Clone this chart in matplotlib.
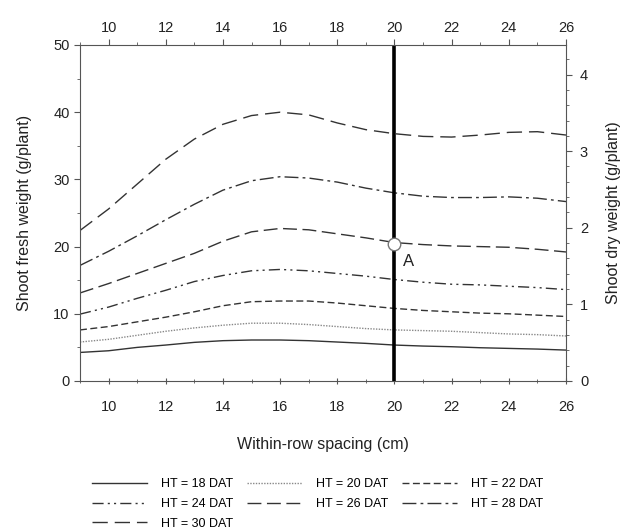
import matplotlib
matplotlib.use("Agg")
import matplotlib.pyplot as plt
from matplotlib.ticker import MultipleLocator

plt.rcParams['font.family'] = ['Liberation Sans', 'DejaVu Sans']

spacing = [9, 10, 11, 12, 13, 14, 15, 16, 17, 18, 19, 20, 21, 22, 23, 24, 25, 26]
ht18 = [4.25, 4.5, 5.0, 5.35, 5.75, 6.0, 6.1, 6.1, 6.0, 5.8, 5.6, 5.35, 5.2, 5.1, 4.95, 4.85, 4.75, 4.6]
ht20 = [5.8, 6.2, 6.8, 7.4, 7.9, 8.3, 8.6, 8.6, 8.4, 8.1, 7.8, 7.6, 7.5, 7.4, 7.2, 7.0, 6.9, 6.7]
ht22 = [7.6, 8.1, 8.8, 9.5, 10.3, 11.2, 11.8, 11.9, 11.9, 11.6, 11.2, 10.8, 10.5, 10.3, 10.1, 10.0, 9.8, 9.6]
ht24 = [9.95, 11.0, 12.3, 13.5, 14.8, 15.7, 16.4, 16.6, 16.4, 16.0, 15.6, 15.1, 14.7, 14.4, 14.3, 14.1, 13.9, 13.6]
ht26 = [13.1, 14.5, 16.0, 17.5, 19.0, 20.8, 22.2, 22.7, 22.5, 21.9, 21.3, 20.6, 20.3, 20.1, 20.0, 19.9, 19.6, 19.2]
ht28 = [17.2, 19.3, 21.6, 24.0, 26.3, 28.4, 29.8, 30.4, 30.2, 29.6, 28.7, 28.0, 27.5, 27.3, 27.3, 27.4, 27.2, 26.7]
ht30 = [22.4, 25.6, 29.3, 33.0, 36.0, 38.2, 39.5, 40.0, 39.6, 38.4, 37.4, 36.8, 36.4, 36.3, 36.6, 37.0, 37.1, 36.6]
labels = ['HT = 18 DAT', 'HT = 20 DAT', 'HT = 22 DAT', 'HT = 24 DAT',
          'HT = 26 DAT', 'HT = 28 DAT', 'HT = 30 DAT']
point_a_x = 20
point_a_y = 20.4
fresh_per_dry = 11.4

styles = [
    dict(ls='-', lw=1.0),
    dict(ls=(0, (1, 1)), lw=1.0, color='#888888'),
    dict(ls=(0, (5, 2.5)), lw=1.0),
    dict(ls=(0, (8, 3, 1.5, 3, 1.5, 3)), lw=1.0),
    dict(ls=(0, (10, 4)), lw=1.0),
    dict(ls=(0, (10, 3, 2, 3)), lw=1.0),
    dict(ls=(0, (11, 5)), lw=1.0),
]

fig = plt.figure(figsize=(6.29, 5.31), dpi=100)
ax = fig.add_axes([80/629, 1-381/531, (566-80)/629, (381-45)/531])

series = [ht18, ht20, ht22, ht24, ht26, ht28, ht30]
handles = []
for s, lab, st in zip(series, labels, styles):
    kw = dict(color='#333333')
    kw.update(st)
    h, = ax.plot(spacing, s, label=lab, **kw)
    handles.append(h)

ax.axvline(point_a_x, color='black', lw=2.6, zorder=3)
ax.plot([point_a_x], [point_a_y], 'o', ms=9, mfc='white', mec='#777777', mew=1.0, zorder=5)
ax.text(point_a_x + 0.5, point_a_y - 2.6, 'A', fontsize=12, ha='center', va='center', color='#222222')

ax.set_xlim(9, 26)
ax.set_ylim(0, 50)
ax.xaxis.set_major_locator(MultipleLocator(2))
ax.xaxis.set_minor_locator(MultipleLocator(1))
ax.yaxis.set_major_locator(MultipleLocator(10))
ax.yaxis.set_minor_locator(MultipleLocator(5))

spine_c = '#555555'
for sp in ['left', 'right', 'bottom', 'top']:
    ax.spines[sp].set_color(spine_c)
ax.spines['right'].set_visible(False)
ax.spines['top'].set_visible(False)

ax.tick_params(axis='both', which='major', labelsize=10.5, color=spine_c, labelcolor='#222222', length=4)
ax.tick_params(axis='both', which='minor', color=spine_c, length=2.5)
ax.tick_params(axis='x', which='both', direction='inout', pad=12)
ax.set_xlabel('Within-row spacing (cm)', fontsize=11.5, color='#222222', labelpad=16)
ax.set_ylabel('Shoot fresh weight (g/plant)', fontsize=11.5, color='#222222', labelpad=15)

# top axis
axt = ax.twiny()
axt.set_xlim(9, 26)
axt.xaxis.set_major_locator(MultipleLocator(2))
axt.xaxis.set_minor_locator(MultipleLocator(1))
for sp in ['left', 'right', 'bottom']:
    axt.spines[sp].set_visible(False)
axt.spines['top'].set_color(spine_c)
axt.tick_params(axis='x', which='major', labelsize=10.5, color=spine_c, labelcolor='#222222', length=4)
axt.tick_params(axis='x', which='minor', color=spine_c, length=2.5)

# right axis
axr = ax.twinx()
axr.set_ylim(0, 50 / fresh_per_dry)
axr.yaxis.set_major_locator(MultipleLocator(1))
axr.yaxis.set_minor_locator(MultipleLocator(0.2))
for sp in ['left', 'top', 'bottom']:
    axr.spines[sp].set_visible(False)
axr.spines['right'].set_color(spine_c)
axr.tick_params(axis='y', which='major', labelsize=10.5, color=spine_c, labelcolor='#222222', length=4, pad=6)
axr.tick_params(axis='y', which='minor', color=spine_c, length=2.5)
axr.set_ylabel('Shoot dry weight (g/plant)', fontsize=11.5, color='#222222', labelpad=13)

order = [0, 3, 6, 1, 4, 2, 5]
fig.legend([handles[i] for i in order], [labels[i] for i in order],
           loc='upper center', bbox_to_anchor=(0.505, 1 - 467/531), ncol=3,
           frameon=False, fontsize=9, handlelength=4.4, handletextpad=1.1,
           columnspacing=1.1, labelspacing=0.62)

fig.savefig('out.png', dpi=100)
